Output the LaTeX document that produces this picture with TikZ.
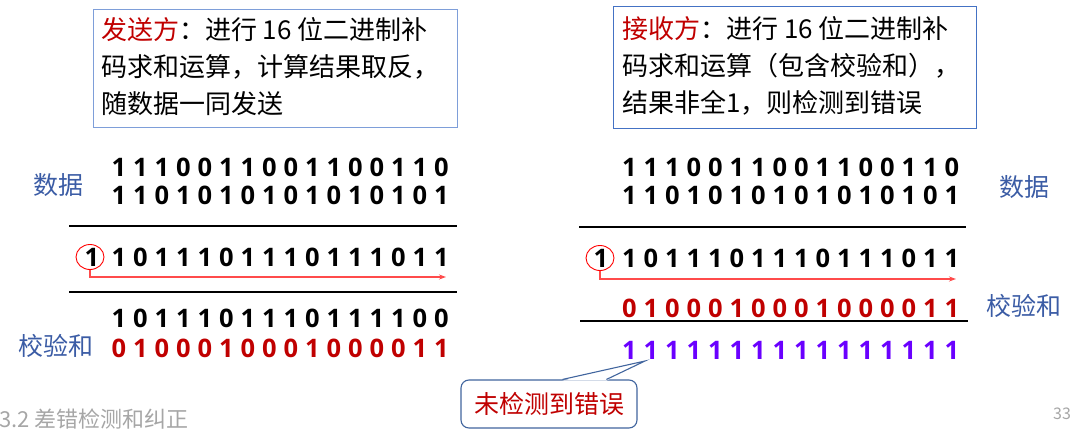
\documentclass[tikz,border=0pt]{standalone}
\usepackage{fontspec}
\setmainfont{Noto Sans CJK SC}
\newfontfamily\digitfont{Open Sans}
\usetikzlibrary{shapes.geometric,calc,arrows.meta}
\definecolor{boxblueA}{HTML}{7E9ED9}
\definecolor{boxblueB}{HTML}{4472C4}
\definecolor{lblblue}{HTML}{3B5CA5}
\definecolor{darkred}{HTML}{C00000}
\definecolor{violetbit}{HTML}{6A00FF}
\definecolor{arrowred}{HTML}{FF4B4B}
\definecolor{footgray}{HTML}{A6A6A6}
\definecolor{calloutblue}{HTML}{41659E}
\tikzset{
  bit/.style={inner sep=0pt, font=\digitfont\bfseries\fontsize{25.5}{25.5}\selectfont},
  lbl/.style={inner sep=0pt, text=lblblue, font=\fontsize{25}{25}\selectfont},
  infobox/.style={draw, line width=1.2pt, inner sep=0pt, anchor=north west},
  boxtext/.style={anchor=north west, inner sep=0pt, align=left, font=\fontsize{26}{37}\selectfont},
  rule/.style={line width=1.3pt},
  ring/.style={draw=red, ellipse, line width=0.9pt, minimum width=28pt, minimum height=25pt, inner sep=0pt},
  carry/.style={arrowred, line width=1.4pt, -{Stealth[length=7pt,width=5pt]}},
}
\newcommand{\bitrow}[5]{%
  \foreach \b [count=\k from 0] in {#5} {
    \node[bit,#4] (#1-\k) at ({#2+21.5*\k},#3) {\b};
  }%
}
\begin{document}
\begin{tikzpicture}[x=1pt,y=-1pt]
\useasboundingbox (0,0) rectangle (1079,431);

% ---------- left: sender ----------
\node[infobox, draw=boxblueA, minimum width=364pt, minimum height=118pt] (lbox) at (93,9) {};
\node[boxtext] (ltext) at (101,17.5) {\textcolor{darkred}{发送方}：进行 16 位二进制补\\码求和运算，计算结果取反，\\随数据一同发送};

\node[lbl] (ldata) at (58,185) {数据};
\bitrow{la}{119}{167}{}{1,1,1,0,0,1,1,0,0,1,1,0,0,1,1,0}
\bitrow{lb}{119}{195}{}{1,1,0,1,0,1,0,1,0,1,0,1,0,1,0,1}
\coordinate (lr1a) at (69,226); \coordinate (lr1b) at (457,226);
\draw[rule] (lr1a) -- (lr1b);
\node[bit] (lcarry) at (92,257) {1};
\node[ring] (lring) at (90,257) {};
\bitrow{ls}{119}{257}{}{1,0,1,1,1,0,1,1,1,0,1,1,1,0,1,1}
\coordinate (lend) at (446,277);
\draw[carry] (lring.south) |- (lend);
\coordinate (lr2a) at (69,292); \coordinate (lr2b) at (457,292);
\draw[rule] (lr2a) -- (lr2b);
\bitrow{lw}{119}{318}{}{1,0,1,1,1,0,1,1,1,0,1,1,1,1,0,0}
\bitrow{lc}{119}{348}{text=darkred}{0,1,0,0,0,1,0,0,0,1,0,0,0,0,1,1}
\node[lbl] (lchk) at (56,346) {校验和};

% ---------- right: receiver ----------
\node[infobox, draw=boxblueB, minimum width=363pt, minimum height=122pt] (rbox) at (613,6) {};
\node[boxtext] (rtext) at (622,16.5) {\textcolor{darkred}{接收方}：进行 16 位二进制补\\码求和运算（包含校验和），\\结果非全1，则检测到错误};

\bitrow{ra}{629.5}{167}{}{1,1,1,0,0,1,1,0,0,1,1,0,0,1,1,0}
\bitrow{rb}{629.5}{195}{}{1,1,0,1,0,1,0,1,0,1,0,1,0,1,0,1}
\node[lbl] (rdata) at (1024,187) {数据};
\coordinate (rr1a) at (579,227); \coordinate (rr1b) at (966,227);
\draw[rule] (rr1a) -- (rr1b);
\node[bit] (rcarry) at (601,258) {1};
\node[ring] (rring) at (600,258) {};
\bitrow{rs}{629.5}{258}{}{1,0,1,1,1,0,1,1,1,0,1,1,1,0,1,1}
\coordinate (rend) at (956,279);
\draw[carry] (rring.south) |- (rend);
\bitrow{rc}{629.5}{308}{text=darkred}{0,1,0,0,0,1,0,0,0,1,0,0,0,0,1,1}
\node[lbl] (rchk) at (1024,306) {校验和};
\coordinate (rr2a) at (580,321); \coordinate (rr2b) at (968,321);
\draw[rule] (rr2a) -- (rr2b);
\bitrow{rv}{629.5}{350}{text=violetbit}{1,1,1,1,1,1,1,1,1,1,1,1,1,1,1,1}

% ---------- callout ----------
\node[draw=calloutblue, line width=1.1pt, rounded corners=8pt, fill=white,
      minimum width=176pt, minimum height=48pt, inner sep=0pt,
      text=darkred, font=\fontsize{25}{25}\selectfont] (note) at (549,404) {未检测到错误};
\coordinate (tip) at (645,361);
\fill[white] ($(note.north west)+(102,1.2)$) -- (tip) -- ($(note.north west)+(146,1.2)$) -- cycle;
\draw[calloutblue, line width=1.1pt] ($(note.north west)+(102,0)$) -- (tip) -- ($(note.north west)+(146,0)$);

% ---------- footer ----------
\node[anchor=west, inner sep=0pt, text=footgray, font=\fontsize{22}{22}\selectfont] (foot) at (-1,419) {3.2 差错检测和纠正};
\node[inner sep=0pt, text=footgray, font=\fontsize{16}{16}\selectfont] (page) at (1062,414) {33};
\end{tikzpicture}
\end{document}
